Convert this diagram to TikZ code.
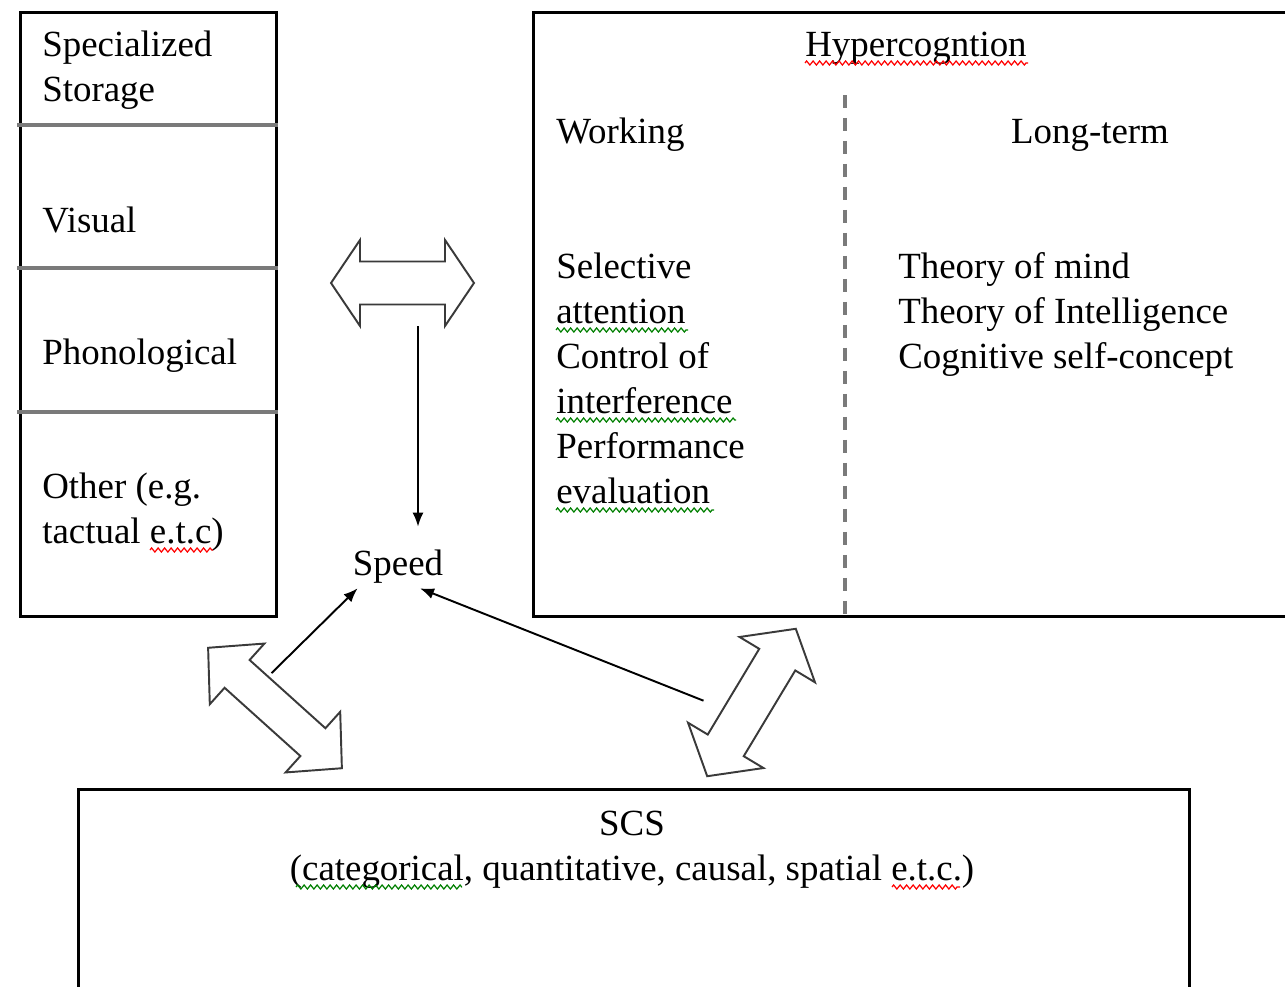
\documentclass[tikz,border=0pt]{standalone}
\usepackage{fontspec}
\setmainfont{Liberation Serif}
\usepackage{tikz}
\usetikzlibrary{arrows.meta,positioning,decorations.pathmorphing}
\definecolor{ink}{HTML}{000000}
\definecolor{rule}{HTML}{7A7A7A}
\definecolor{outline}{HTML}{3A3A3A}
\definecolor{wavered}{HTML}{FF0000}
\definecolor{wavegreen}{HTML}{008000}
\tikzset{
  panel/.style={draw=ink, line width=1.9pt, inner sep=0, anchor=north west},
  txt/.style={inner sep=0, font=\fontsize{21}{25.6}\selectfont, align=left, anchor=base west},
  divider/.style={draw=rule, line width=2.2pt},
  split/.style={draw=rule, line width=2.3pt, dash pattern=on 0.26cm off 0.2cm},
  block/.style={draw=outline, line width=1.1pt, fill=white, line join=miter},
  flow/.style={-{Latex[length=2.8mm,width=2.2mm]}, line width=1.1pt, draw=ink},
  squig/.style={decorate, decoration={zigzag, segment length=0.13cm, amplitude=0.04cm}, line width=0.7pt},
  % half length / half head width / half shaft / head length
  pics/twohead/.style args={#1/#2/#3/#4}{code={
    \draw[block] (-#1,0) -- (-#1+#4,#2) -- (-#1+#4,#3) -- (#1-#4,#3) -- (#1-#4,#2) -- (#1,0)
      -- (#1-#4,-#2) -- (#1-#4,-#3) -- (-#1+#4,-#3) -- (-#1+#4,-#2) -- cycle;
    \coordinate (-top) at (0,-#3);
    \coordinate (-bottom) at (0,#2);
  }},
}

\begin{document}
\begin{tikzpicture}[x=0.02cm, y=-0.02cm]
  \useasboundingbox[fill=white] (0,0) rectangle (1285,987);
  % boxes
  \node[panel, minimum width=5.12cm, minimum height=12.08cm] (store) at (19,11) {};
  \node[panel, minimum width=15.36cm, minimum height=12.08cm] (hyperbox) at (532,11) {};
  \node[panel, minimum width=22.22cm, minimum height=4.6cm] (scsbox) at (77,788) {};
  \foreach \y in {125,268,412}{\draw[divider] (17,\y) -- (store.east |- 0,\y);}
  \coordinate (splittop) at (845,95);
  \draw[split] (splittop) -- (splittop |- hyperbox.south);
  % specialized storage
  \node[txt] (spec) at (42,101) {Specialized\\Storage};
  \node[txt] (visual) at (42,232) {Visual};
  \node[txt] (phon) at (42,364) {Phonological};
  \node[txt] (other) at (42,543) {Other (e.g.\\tactual e.t.c)};
  % hypercognition
  \node[txt, anchor=base] (hyper) at (916,56) {Hypercogntion};
  \node[txt] (work) at (556,143) {Working};
  \node[txt, anchor=base] (long) at (1090,143) {Long-term};
  \node[txt] (wlist) at (556,503) {Selective\\attention\\Control of\\interference\\Performance\\evaluation};
  \node[txt] (llist) at (898,368) {Theory of mind\\Theory of Intelligence\\Cognitive self-concept};
  % scs
  \node[txt, anchor=base, align=center] (scs) at (632,880) {SCS\\(categorical, quantitative, causal, spatial e.t.c.)};
  % speed and links
  \node[txt, anchor=base, text height=0.96cm, text depth=0.26cm] (speed) at (398,575) {Speed};
  \pic (harr) at (402.5,283) {twohead=71.5/43/21.5/29};
  \pic[rotate=-42] (larr) at (275,708) {twohead=90/40.8/18.7/39};
  \pic[rotate=59] (rarr) at (751.5,702.5) {twohead=86/44/21/36};
  \draw[flow] ([xshift=0.31cm]harr-bottom) -- ([xshift=0.4cm]speed.north);
  \draw[flow] ([shift={(-16,-21)}]larr-top) -- ([xshift=0.1cm]speed.south west);
  \draw[flow] ([shift={(-30,9)}]rarr-top) -- ([xshift=0.44cm]speed.south);
  % spelling marks
  \foreach \xa/\xb/\yy/\c in {805/1028/63/wavered, 150/213/550/wavered, 892/960/887/wavered,
    556/688/330/wavegreen, 556/736/420/wavegreen, 556/714/510/wavegreen, 296/462/887/wavegreen}
    {\draw[squig, draw=\c] (\xa,\yy) -- (\xb,\yy);}
\end{tikzpicture}
\end{document}
